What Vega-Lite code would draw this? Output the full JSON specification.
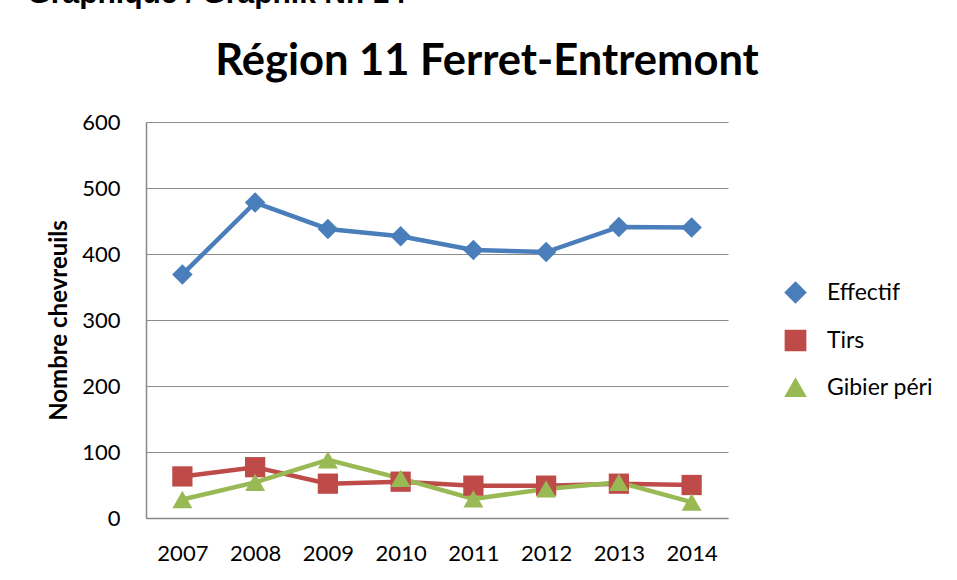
{
  "$schema": "https://vega.github.io/schema/vega-lite/v6.json",
  "autosize": {"type": "none"},
  "width": 582,
  "height": 396,
  "padding": {"left": 146, "top": 122, "right": 229, "bottom": 62},
  "background": "white",
  "title": {
    "text": "Région 11 Ferret-Entremont",
    "font": "Lato",
    "fontSize": 43.5,
    "fontWeight": "bold",
    "color": "#000000",
    "anchor": "middle",
    "frame": "group",
    "baseline": "alphabetic",
    "offset": -140,
    "dx": 50
  },
  "config": {
    "view": {"stroke": null},
    "font": "Lato"
  },
  "data": {
    "values": [
      {"year": "2007", "series": "Effectif", "value": 369},
      {"year": "2008", "series": "Effectif", "value": 478},
      {"year": "2009", "series": "Effectif", "value": 438},
      {"year": "2010", "series": "Effectif", "value": 427},
      {"year": "2011", "series": "Effectif", "value": 406},
      {"year": "2012", "series": "Effectif", "value": 403},
      {"year": "2013", "series": "Effectif", "value": 441},
      {"year": "2014", "series": "Effectif", "value": 440},
      {"year": "2007", "series": "Tirs", "value": 63},
      {"year": "2008", "series": "Tirs", "value": 77},
      {"year": "2009", "series": "Tirs", "value": 52},
      {"year": "2010", "series": "Tirs", "value": 55},
      {"year": "2011", "series": "Tirs", "value": 49},
      {"year": "2012", "series": "Tirs", "value": 49},
      {"year": "2013", "series": "Tirs", "value": 52},
      {"year": "2014", "series": "Tirs", "value": 50},
      {"year": "2007", "series": "Gibier péri", "value": 28},
      {"year": "2008", "series": "Gibier péri", "value": 54},
      {"year": "2009", "series": "Gibier péri", "value": 88},
      {"year": "2010", "series": "Gibier péri", "value": 60},
      {"year": "2011", "series": "Gibier péri", "value": 29},
      {"year": "2012", "series": "Gibier péri", "value": 44},
      {"year": "2013", "series": "Gibier péri", "value": 54},
      {"year": "2014", "series": "Gibier péri", "value": 24}
    ]
  },
  "encoding": {
    "x": {
      "field": "year",
      "type": "ordinal",
      "scale": {"type": "point", "padding": 0.5},
      "axis": {
        "title": "Graphique / Graphik Nr. 14",
        "titleFont": "Liberation Sans",
        "titleFontSize": 30,
        "titleFontWeight": "bold",
        "titleColor": "#000000",
        "titleAnchor": "start",
        "titleAlign": "left",
        "titleBaseline": "alphabetic",
        "titleX": -119,
        "titleY": -516,
        "labelAngle": 0,
        "labelFont": "Lato",
        "labelFontSize": 22,
        "labelColor": "#000000",
        "labelPadding": 25,
        "ticks": false,
        "tickSize": 0,
        "domainColor": "#898989",
        "domainWidth": 1.5,
        "grid": false
      }
    },
    "y": {
      "field": "value",
      "type": "quantitative",
      "scale": {"domain": [0, 600], "nice": false},
      "axis": {
        "title": "Nombre chevreuils",
        "titleFont": "Lato",
        "titleFontSize": 24,
        "titleFontWeight": "bold",
        "titleColor": "#000000",
        "titlePadding": 10,
        "values": [0, 100, 200, 300, 400, 500, 600],
        "labelFont": "Lato",
        "labelFontSize": 22,
        "labelColor": "#000000",
        "labelPadding": 26,
        "ticks": false,
        "tickSize": 0,
        "domainColor": "#898989",
        "domainWidth": 1.5,
        "grid": true,
        "gridColor": "#8c8c8c",
        "gridWidth": 1.2
      }
    },
    "color": {
      "field": "series",
      "type": "nominal",
      "scale": {
        "domain": ["Effectif", "Tirs", "Gibier péri"],
        "range": ["#4A7EBB", "#BE4B48", "#98B954"]
      },
      "legend": {
        "title": null,
        "orient": "none",
        "legendX": 638,
        "legendY": 159,
        "padding": 0,
        "symbolSize": 300,
        "labelFont": "Lato",
        "labelFontSize": 23,
        "labelColor": "#000000",
        "labelOffset": 20,
        "rowPadding": 21
      }
    }
  },
  "layer": [
    {
      "mark": {"type": "line", "strokeWidth": 4.5}
    },
    {
      "mark": {"type": "point", "filled": true, "opacity": 1},
      "encoding": {
        "shape": {
          "field": "series",
          "type": "nominal",
          "scale": {
            "domain": ["Effectif", "Tirs", "Gibier péri"],
            "range": ["diamond", "square", "triangle-up"]
          },
          "legend": null
        },
        "size": {
          "field": "series",
          "type": "nominal",
          "scale": {
            "domain": ["Effectif", "Tirs", "Gibier péri"],
            "range": [420, 400, 520]
          },
          "legend": null
        }
      }
    }
  ]
}
